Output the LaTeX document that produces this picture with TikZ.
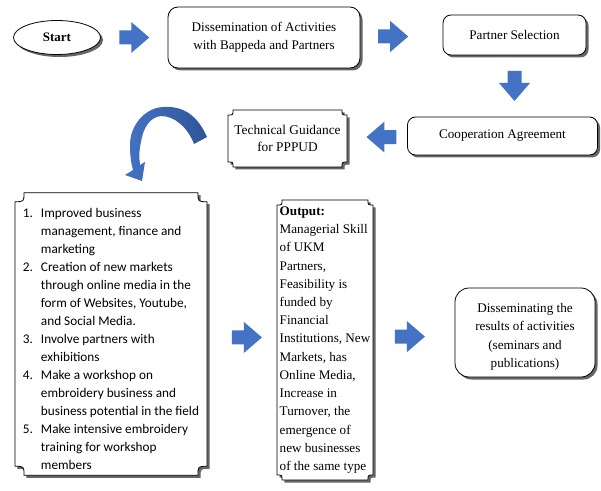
\documentclass[tikz,border=0pt]{standalone}
\usepackage{fontspec}
\setmainfont{Liberation Serif}
\newfontfamily\calib{Carlito}
\usetikzlibrary{shapes.geometric,shadows,calc,backgrounds}
\definecolor{arrblue}{RGB}{68,114,196}
\definecolor{arrdark}{RGB}{47,85,151}
\newcommand{\plaqueframe}[2]{%
  \path[draw=black,line width=0.8bp,fill=white,shad]
  ([xshift=#2]#1.north west) -- ([xshift=-#2]#1.north east)
  .. controls ([xshift=-#2,yshift=-#2]#1.north east) .. ([yshift=-#2]#1.north east)
  -- ([yshift=#2]#1.south east)
  .. controls ([xshift=-#2,yshift=#2]#1.south east) .. ([xshift=-#2]#1.south east)
  -- ([xshift=#2]#1.south west)
  .. controls ([xshift=#2,yshift=#2]#1.south west) .. ([yshift=#2]#1.south west)
  -- ([yshift=-#2]#1.north west)
  .. controls ([xshift=#2,yshift=-#2]#1.north west) .. ([xshift=#2]#1.north west)
  -- cycle;}
\begin{document}
\begin{tikzpicture}[x=1bp,y=-1bp,
  every node/.style={font=\fontsize{13.2}{18.3}\selectfont},
  shad/.style={drop shadow={shadow xshift=2.5bp,shadow yshift=-2.5bp,fill=black!60,opacity=1}},
  rbox/.style={draw=black,line width=0.8bp,fill=white,rounded corners=#1,shad,align=center,inner sep=0pt,outer sep=0pt},
  plainbox/.style={draw=none,inner sep=0pt,outer sep=0pt},
  barrowpic/.pic={\fill[arrblue] (-15,-7) -- (-3,-7) -- (-3,-15.5) -- (15,0) -- (-3,15.5) -- (-3,7) -- (-15,7) -- cycle;},
]
\begin{pgfonlayer}{background}
\fill[white] (0,0) rectangle (601,491);
\end{pgfonlayer}
\useasboundingbox (0,0) rectangle (601,491);

% boxes
\node[draw=black,ellipse,line width=0.8bp,fill=white,shad,minimum width=87bp,minimum height=34bp,
      inner sep=0pt,outer sep=0pt,font=\fontsize{13}{16}\selectfont\bfseries] (start) at (57,37.5) {Start};
\node[rbox=10bp,minimum width=192bp,minimum height=61bp] (diss) at (264,37.5)
  {Dissemination of Activities\\with Bappeda and Partners};
\node[rbox=8bp,minimum width=143bp,minimum height=40bp] (ps) at (514.5,35) {Partner Selection};
\node[rbox=8bp,minimum width=190bp,minimum height=38bp] (coop) at (502.5,136) {Cooperation Agreement};
\node[plainbox,align=center,minimum width=119bp,minimum height=57bp,font=\fontsize{13.4}{16.5}\selectfont]
  (tech) at (287.5,138.5) {Technical Guidance\\for PPPUD};
\node[plainbox,minimum width=192bp,minimum height=282bp,font=\calib\fontsize{13.3}{18.1}\selectfont]
  (list) at (111,334) {%
\begin{tabular}{@{}p{18bp}@{}l@{}}
\rule{0pt}{24.7bp}1. & Improved business\\
 & management, finance and\\
 & marketing\\
2. & Creation of new markets\\
 & through online media in the\\
 & form of Websites, Youtube,\\
 & and Social Media.\\
3. & Involve partners with\\
 & exhibitions\\
4. & Make a workshop on\\
 & embroidery business and\\
 & business potential in the field\\
5. & Make intensive embroidery\\
 & training for workshop\\
 & members
\end{tabular}};
\node[plainbox,align=left,minimum width=96bp,minimum height=280bp,font=\fontsize{13.2}{18.3}\selectfont]
  (out) at (325,340) {\textbf{Output:}\\Managerial Skill\\of UKM\\Partners,\\Feasibility is\\funded by\\Financial\\Institutions, New\\Markets, has\\Online Media,\\Increase in\\Turnover, the\\emergence of\\new businesses\\of the same type};
\node[rbox=14bp,minimum width=140bp,minimum height=89bp,font=\fontsize{13.2}{18.4}\selectfont] (dis) at (525,332.5)
  {\rule{0pt}{18bp}Disseminating the\\results of activities\\(seminars and\\publications)};

\begin{pgfonlayer}{background}
\plaqueframe{tech}{5bp}
\plaqueframe{list}{9bp}
\plaqueframe{out}{5bp}
\end{pgfonlayer}

% block arrows
\pic (a1) at ($(start.east)!0.5!(diss.west)$) {barrowpic};
\pic (a2) at ($(diss.east)!0.4!(ps.west)$) {barrowpic};
\pic[rotate=-90] (a3) at ($(ps.south)!0.5!(ps.south |- coop.north)$) {barrowpic};
\pic[rotate=180] (a4) at ($(coop.west)!0.43!(tech.east)$) {barrowpic};
\pic (a5) at ($(list.east)!0.57!(out.west)$) {barrowpic};
\pic (a6) at ($(out.east)!0.45!(dis.west)$) {barrowpic};

% curved arrow
\path[left color=arrblue,right color=arrdark]
  (207,137) .. controls (196,112) and (180,106) .. (163,107)
  .. controls (145,108) and (130,125) .. (130,145)
  .. controls (130,155) and (131,163) .. (133,170)
  -- (125,175) -- (142,181) -- (145,162) -- (140,165)
  .. controls (139,158) and (139,150) .. (141,142)
  .. controls (143,128) and (150,117) .. (161,116)
  .. controls (175,116) and (188,128) .. (194,144) -- cycle;
\end{tikzpicture}
\end{document}
